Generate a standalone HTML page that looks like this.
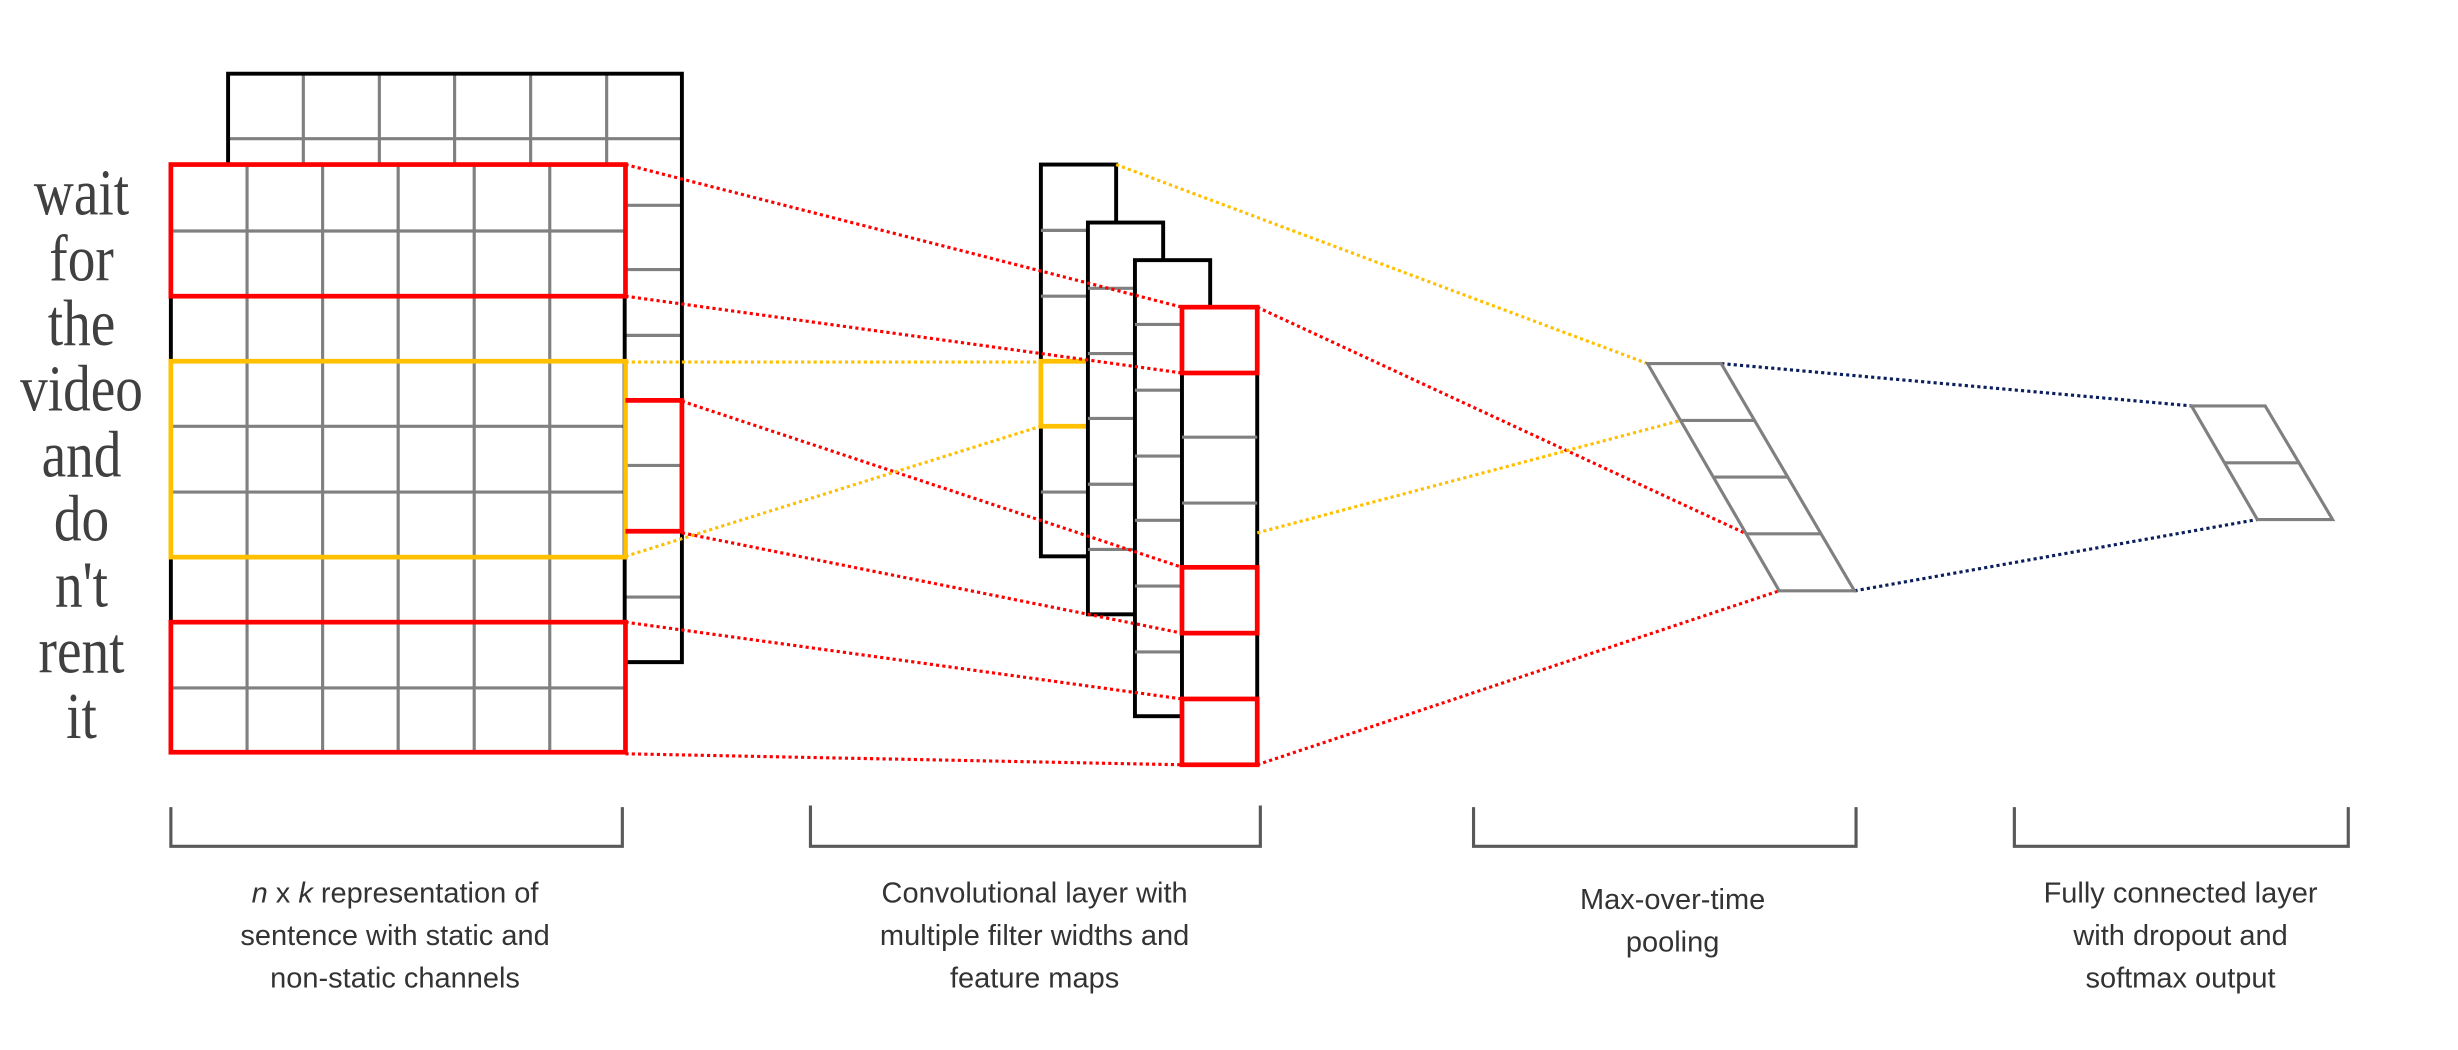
<!DOCTYPE html>
<html><head><meta charset="utf-8"><style>
html,body{margin:0;padding:0;background:#fff;}
svg{display:block;}
</style></head><body>
<svg width="2458" height="1050" viewBox="0 0 1568 670" preserveAspectRatio="none" xmlns="http://www.w3.org/2000/svg">
<rect width="1568" height="670" fill="#fff"/>
<g stroke="#808080" stroke-width="2" fill="none">
<line x1="193.5" y1="47" x2="193.5" y2="105"/><line x1="242" y1="47" x2="242" y2="105"/><line x1="290" y1="47" x2="290" y2="105"/><line x1="338.5" y1="47" x2="338.5" y2="105"/><line x1="387" y1="47" x2="387" y2="105"/>
<line x1="145.5" y1="88.5" x2="435" y2="88.5"/>
<line x1="399" y1="131" x2="435" y2="131"/><line x1="399" y1="172" x2="435" y2="172"/><line x1="399" y1="214" x2="435" y2="214"/><line x1="399" y1="297" x2="435" y2="297"/><line x1="399" y1="381" x2="435" y2="381"/>
</g>
<polyline points="145.5,105 145.5,47 435,47 435,422.5 399,422.5" fill="none" stroke="#000" stroke-width="2.5"/>
<g stroke="#808080" stroke-width="2">
<line x1="157.6" y1="105" x2="157.6" y2="480"/><line x1="205.8" y1="105" x2="205.8" y2="480"/><line x1="254" y1="105" x2="254" y2="480"/><line x1="302.5" y1="105" x2="302.5" y2="480"/><line x1="350.7" y1="105" x2="350.7" y2="480"/>
<line x1="109" y1="147.4" x2="399" y2="147.4"/><line x1="109" y1="189" x2="399" y2="189"/><line x1="109" y1="272" x2="399" y2="272"/><line x1="109" y1="314" x2="399" y2="314"/><line x1="109" y1="355.4" x2="399" y2="355.4"/><line x1="109" y1="439" x2="399" y2="439"/>
</g>
<line x1="109" y1="189" x2="109" y2="397" stroke="#000" stroke-width="2.5"/>
<line x1="398.5" y1="189" x2="398.5" y2="397" stroke="#000" stroke-width="2.5"/>
<rect x="109" y="105" width="290" height="84" fill="none" stroke="#f00" stroke-width="3"/>
<rect x="109" y="397" width="290" height="83" fill="none" stroke="#f00" stroke-width="3"/>
<rect x="109" y="230.5" width="290" height="125" fill="none" stroke="#ffc000" stroke-width="3"/>
<polyline points="399,255.5 435,255.5 435,339 399,339" fill="none" stroke="#f00" stroke-width="3"/>
<rect x="664" y="105" width="48" height="250" fill="#fff" stroke="#000" stroke-width="2.5"/>
<g stroke="#808080" stroke-width="2"><line x1="664" y1="147" x2="694" y2="147"/><line x1="664" y1="189" x2="694" y2="189"/><line x1="664" y1="314" x2="694" y2="314"/></g>
<polyline points="694,230.5 664,230.5 664,272 694,272" fill="none" stroke="#ffc000" stroke-width="3"/>
<rect x="694" y="142" width="48" height="250" fill="#fff" stroke="#000" stroke-width="2.5"/>
<g stroke="#808080" stroke-width="2"><line x1="694" y1="184" x2="724" y2="184"/><line x1="694" y1="225.6" x2="724" y2="225.6"/><line x1="694" y1="267" x2="724" y2="267"/><line x1="694" y1="309" x2="724" y2="309"/><line x1="694" y1="350.6" x2="724" y2="350.6"/></g>
<rect x="724" y="166" width="48" height="291" fill="#fff" stroke="#000" stroke-width="2.5"/>
<g stroke="#808080" stroke-width="2"><line x1="724" y1="207" x2="754" y2="207"/><line x1="724" y1="249" x2="754" y2="249"/><line x1="724" y1="291" x2="754" y2="291"/><line x1="724" y1="332" x2="754" y2="332"/><line x1="724" y1="374" x2="754" y2="374"/><line x1="724" y1="416" x2="754" y2="416"/></g>
<rect x="754" y="196" width="48" height="292" fill="#fff" stroke="#000" stroke-width="2.5"/>
<g stroke="#808080" stroke-width="2"><line x1="754" y1="279" x2="802" y2="279"/><line x1="754" y1="321" x2="802" y2="321"/></g>
<g fill="none" stroke="#f00" stroke-width="3">
<rect x="754" y="196" width="48" height="42"/><rect x="754" y="362" width="48" height="42"/><rect x="754" y="446" width="48" height="42"/>
</g>
<g stroke-width="2" stroke-dasharray="2,2" fill="none">
<g stroke="#f00">
<line x1="399" y1="105" x2="754" y2="196"/><line x1="399" y1="189" x2="754" y2="238"/><line x1="435" y1="256" x2="754" y2="362"/><line x1="435" y1="340" x2="754" y2="404"/><line x1="399" y1="397" x2="754" y2="446"/><line x1="399" y1="481" x2="754" y2="488"/>
<line x1="802" y1="196" x2="1114" y2="340.6"/><line x1="802" y1="488" x2="1135" y2="377"/>
</g>
<g stroke="#ffc000">
<line x1="399" y1="231" x2="664" y2="231"/><line x1="399" y1="355" x2="664" y2="272"/>
<line x1="712" y1="105" x2="1051" y2="232"/><line x1="802" y1="340" x2="1072" y2="268.3"/>
</g>
<g stroke="#0a1f5c">
<line x1="1098" y1="232" x2="1398" y2="259"/><line x1="1183" y1="377" x2="1440" y2="331.5"/>
</g>
</g>
<g stroke="#808080" stroke-width="2" fill="none">
<polygon points="1051,232 1098,232 1183,377 1135,377"/>
<line x1="1072" y1="268.3" x2="1119" y2="268.3"/><line x1="1093" y1="304.4" x2="1140" y2="304.4"/><line x1="1114" y1="340.6" x2="1161" y2="340.6"/>
<polygon points="1398,259 1445,259 1488,331.5 1440,331.5"/>
<line x1="1419" y1="295.3" x2="1466" y2="295.3"/>
</g>
<g transform="translate(52,0) scale(0.84,1)">
<g font-family="'Liberation Serif',serif" font-size="42" fill="#404040" text-anchor="middle">
<text x="0" y="137">wait</text><text x="0" y="179">for</text><text x="0" y="220">the</text><text x="0" y="262">video</text><text x="0" y="304">and</text><text x="0" y="345">do</text><text x="0" y="387">n't</text><text x="0" y="429">rent</text><text x="0" y="471">it</text>
</g>
</g>
<g stroke="#595959" stroke-width="2" fill="none">
<polyline points="109,515 109,540 397,540 397,515"/>
<polyline points="517,514 517,540 804,540 804,514"/>
<polyline points="940,515 940,540 1184,540 1184,515"/>
<polyline points="1285,515 1285,540 1498,540 1498,515"/>
</g>
<g font-family="'Liberation Sans',sans-serif" font-size="18.5" fill="#333" text-anchor="middle">
<text x="252" y="576"><tspan font-style="italic">n</tspan> x <tspan font-style="italic">k</tspan> representation of</text>
<text x="252" y="603">sentence with static and</text>
<text x="252" y="630">non-static channels</text>
<text x="660" y="576">Convolutional layer with</text>
<text x="660" y="603">multiple filter widths and</text>
<text x="660" y="630">feature maps</text>
<text x="1067" y="580">Max-over-time</text>
<text x="1067" y="607">pooling</text>
<text x="1391" y="576">Fully connected layer</text>
<text x="1391" y="603">with dropout and</text>
<text x="1391" y="630">softmax output</text>
</g>
</svg>
</body></html>
